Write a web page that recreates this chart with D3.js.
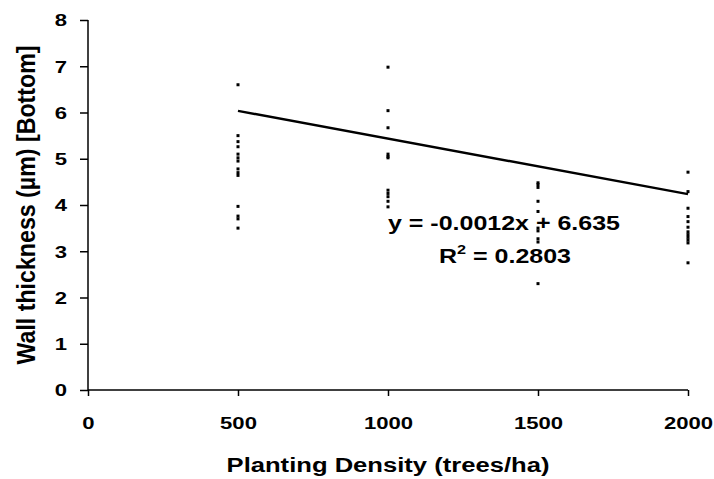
<!DOCTYPE html>
<html>
<head>
    <style>
        body { margin: 0; background: #fff; }
        text { font-family: Arial, "Liberation Sans", sans-serif; font-weight: bold; fill: #000; }
    </style>
</head>
<body>
    <script src="https://d3js.org/d3.v7.min.js"></script>
    <script>
        const width = 714;
        const height = 479;

        // densities (trees/ha) and measured wall thickness at each
        const densities = [500, 1000, 1500, 2000];
        const thick500 = [6.6, 5.5, 5.37, 5.26, 5.1, 5.02, 4.95, 4.78, 4.7, 4.64, 3.97, 3.76, 3.7, 3.5];
        const thick1000 = [6.98, 6.04, 5.67, 5.1, 5.05, 5.02, 4.32, 4.25, 4.18, 4.08, 3.96];
        const thick1500 = [4.48, 4.44, 4.38, 4.08, 3.86, 3.5, 3.44, 3.27, 3.2, 2.3];
        const thick2000 = [4.71, 4.29, 3.93, 3.75, 3.64, 3.52, 3.42, 3.36, 3.3, 3.24, 3.18, 2.75];

        const slope = -0.0012;
        const intercept = 6.635;
        const eqText = "y = -0.0012x + 6.635";
        const r2Text = "0.2803";

        const xTicks = [0, 500, 1000, 1500, 2000];
        const yTicks = [0, 1, 2, 3, 4, 5, 6, 7, 8];

        const margin = {left: 88, right: 26, top: 20, bottom: 89};
        const sx = 1.3; // the original picture is stretched sideways

        const x = d3.scaleLinear().domain([0, 2000]).range([margin.left, width - margin.right]);
        const y = d3.scaleLinear().domain([0, 8]).range([height - margin.bottom, margin.top]);

        const svg = d3.select("body").append("svg").attr("width", width).attr("height", height);

        // y axis
        const yAx = svg.append("g").attr("transform", `translate(${margin.left},0)`)
            .call(d3.axisLeft(y).tickValues(yTicks).tickSize(8).tickFormat(d3.format("d")));
        yAx.select(".domain").attr("stroke", "#000").attr("stroke-width", 1.5).attr("d", `M0,${y(8)}V${y(0)}`);
        yAx.selectAll(".tick line").attr("stroke", "#000").attr("stroke-width", 1.5);
        yAx.selectAll("text").style("font-size", "17px").attr("x", 0).attr("dy", "0.35em")
            .attr("transform", `translate(-21,0) scale(${sx},1)`);

        // x axis
        const xAx = svg.append("g").attr("transform", `translate(0,${y(0)})`)
            .call(d3.axisBottom(x).tickValues(xTicks).tickSize(6).tickPadding(21).tickFormat(d3.format("d")));
        xAx.select(".domain").attr("stroke", "#000").attr("stroke-width", 1.5).attr("d", `M${x(0)},0H${x(2000)}`);
        xAx.selectAll(".tick line").attr("stroke", "#000").attr("stroke-width", 1.5);
        xAx.selectAll("text").style("font-size", "17px").attr("transform", `scale(${sx},1)`);

        // points
        const pts = [];
        [thick500, thick1000, thick1500, thick2000].forEach((arr, i) => {
            arr.forEach(v => pts.push({d: densities[i], v: v}));
        });
        svg.append("g").selectAll("rect").data(pts).enter().append("rect")
            .attr("x", d => x(d.d) - 1.5)
            .attr("y", d => y(d.v) - 1.5)
            .attr("width", 3)
            .attr("height", 3)
            .attr("fill", "#000");

        // trend line
        svg.append("line")
            .attr("x1", x(500)).attr("y1", y(slope * 500 + intercept))
            .attr("x2", x(2000)).attr("y2", y(slope * 2000 + intercept))
            .attr("stroke", "#000").attr("stroke-width", 2.5);

        // equation
        svg.append("text").attr("text-anchor", "middle")
            .attr("transform", `translate(504,230) scale(1.25,1)`)
            .style("font-size", "20px").text(eqText);
        const r2 = svg.append("text").attr("text-anchor", "middle")
            .attr("transform", `translate(505,263) scale(1.25,1)`)
            .style("font-size", "20px");
        r2.append("tspan").text("R");
        r2.append("tspan").attr("dy", -9).style("font-size", "13px").text("2");
        r2.append("tspan").attr("dy", 9).text(" = " + r2Text);

        // axis titles
        svg.append("text").attr("text-anchor", "middle")
            .attr("transform", `translate(${x(1000)},472) scale(1.28,1)`)
            .style("font-size", "20px").text("Planting Density (trees/ha)");
        svg.append("text").attr("transform", `translate(35,${y(4)}) rotate(-90) scale(1.16,1.3)`)
            .attr("text-anchor", "middle").style("font-size", "20px")
            .text("Wall thickness (µm) [Bottom]");
    </script>
</body>
</html>
